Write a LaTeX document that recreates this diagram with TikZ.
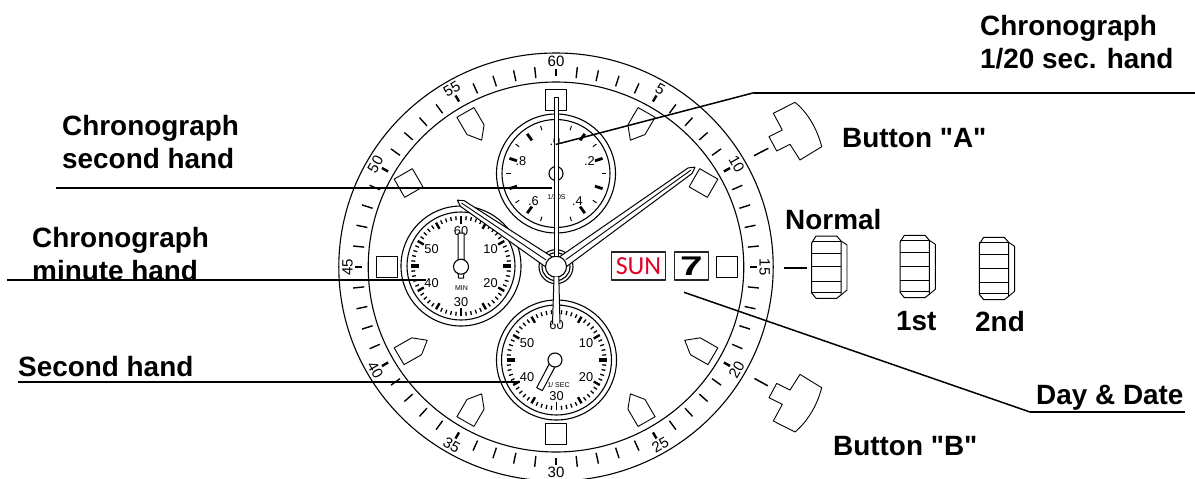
\documentclass[tikz,border=0pt]{standalone}
\usepackage{fontspec}
\setmainfont{Liberation Sans}[Ligatures=TeXOff]
\newfontfamily\sunfont{Carlito}
\usetikzlibrary{positioning,calc}
\definecolor{sunred}{RGB}{228,0,38}

\begin{document}
\begin{tikzpicture}[x=1pt,y=-1pt,line join=round,
 ring/.style={draw,circle,line width=1.1pt,inner sep=0pt,fill=white},
 plate/.style={draw,line width=0.9pt,fill=white},
 marker/.style={draw,line width=0.9pt,inner sep=0pt,minimum size=21pt,fill=white},
 window/.style={draw=black!85,line width=1.3pt,inner sep=0pt,minimum height=28pt,fill=white},
 handline/.style={draw,line width=1pt,fill=white},
 leader/.style={line width=2pt},
 callout/.style={font=\fontsize{27.9}{33}\selectfont\bfseries,align=left,inner sep=0pt,anchor=west},
 bezelnum/.style={font=\fontsize{15}{15}\selectfont,inner sep=0pt},
 dialnum/.style={font=\fontsize{12.8}{14}\selectfont,inner sep=0pt},
 dialname/.style={font=\fontsize{7}{7}\selectfont,inner sep=0pt},
 crown/.pic={
  \draw[line width=0.9pt,fill=white] (29.3,5)--(35.3,9)--(35.3,54)--(29.3,59);
  \draw[line width=1pt,fill=white] (0,7)--(4.3,0)--(25,0)--(29.3,5)--(29.3,59)--(25,62.3)--(4.3,62.3)--(0,57)--cycle;
  \foreach \ly in {5,17.3,30.7,45,56.3} \draw[line width=0.8pt] (0,\ly)--(29.3,\ly);
 }]
\useasboundingbox (0,0) rectangle (1195,479);

% bezel
\begin{scope}[shift={(556,267)},xscale=1.015]
\draw[line width=1.1pt] (0,0) circle (214);
\draw[line width=1.1pt] (0,0) circle (185);
\foreach \m in {0,...,59}{
 \pgfmathtruncatemacro{\c}{6*\m}
 \pgfmathtruncatemacro{\five}{mod(\m,5)}
 \ifnum\five=0
  \draw[line width=2.4pt] (\c-90:191)--(\c-90:198);
 \else
  \draw[line width=1.4pt] (\c-90:190)--(\c-90:201);
 \fi
}
\foreach \n/\rot in {60/0,5/-30,10/-60,15/-90,20/60,25/30,30/0,35/-30,40/-60,45/90,50/60,55/30}{
 \pgfmathsetmacro{\c}{6*\n}
 \node[bezelnum,rotate=\rot] (bezel\n) at (\c-90:205.5) {\n};
}
\foreach \c in {30,120,150,210,240,330}
 \draw[plate,rotate=-\c] (-9.7,-178.5)--(9.7,-178.5)--(9.7,-158.5)--(0,-146.5)--(-9.7,-158.5)--cycle;
\end{scope}

\node[marker] (mark12) at (556,100) {};
\node[marker] (mark6) at (556,434) {};
\node[marker] (mark9) at (386.5,267) {};
\node[marker] (mark3) at (727,267) {};
\node[marker,rotate=-30] (mark2) at (703.5,183) {};
\node[marker,rotate=30] (mark10) at (408.5,183) {};

% windows
\node[window,minimum width=54pt] (daywin) at (638.5,266) {\sunfont\fontsize{26}{26}\selectfont\textcolor{sunred}{SUN}};
\node[window,minimum width=34pt] (datewin) at (691.3,266) {\bfseries\fontsize{27}{27}\selectfont\scalebox{1.5}[1]{7}};

% 1/20 dial
\node[ring,minimum size=119pt] (topouter) at (556,173.5) {};
\node[ring,minimum size=108pt] (topinner) at (556,173.5) {};
\foreach \c in {0,36,...,324}
 \draw[line width=2.8pt,shift={(556,173.5)}] (\c-90:49)--(\c-90:41);
\foreach \c in {18,54,...,342}
 \draw[line width=1pt,shift={(556,173.5)}] (\c-90:50)--(\c-90:45.5);
\node[dialnum] (top0) at (555,141) {.0};
\node[dialnum] (top2) at (589.5,161) {.2};
\node[dialnum] (top4) at (577.5,201.5) {.4};
\node[dialnum] (top6) at (533.5,201.5) {.6};
\node[dialnum] (top8) at (521,161) {.8};
\node[dialname] (topname) at (556.5,196.7) {1/20S};
\node[ring,minimum size=14pt] (tophub) at (556,173.5) {};

% minute dial and small second dial
\foreach \dial/\cx/\cy/\inr in {min/461/266/108,sec/556.5/360/110}{
 \node[ring,minimum size=120pt] (\dial outer) at (\cx,\cy) {};
 \node[ring,minimum size=\inr pt] (\dial inner) at (\cx,\cy) {};
 \foreach \m in {0,...,59}{
  \pgfmathtruncatemacro{\c}{6*\m}
  \pgfmathtruncatemacro{\five}{mod(\m,5)}
  \pgfmathtruncatemacro{\quart}{mod(\m,15)}
  \ifnum\quart=0
   \ifnum\m=0 \def\tw{1.5pt}\else\ifnum\m=30 \def\tw{1.5pt}\else\def\tw{3.2pt}\fi\fi
   \draw[line width=\tw,shift={(\cx,\cy)}] (\c-90:50)--(\c-90:42);
  \else\ifnum\five=0
   \draw[line width=2.4pt,shift={(\cx,\cy)}] (\c-90:50)--(\c-90:43);
  \else
   \draw[line width=1.3pt,shift={(\cx,\cy)}] (\c-90:50)--(\c-90:46);
  \fi\fi
 }
 \foreach \n/\nx/\ny in {60/0/-35,10/29.5/-17,20/29.5/17.5,30/0/36,40/-29.5/17.5,50/-29.5/-17}
  \node[dialnum] (\dial\n) at ($(\cx,\cy)+(\nx,\ny)$) {\n};
}
\node[dialname] (minname) at (461.5,288.5) {MIN};
\node[dialname] (secname) at (558.5,385) {1/ SEC};

% small hands
\draw[handline] (458,272)--(458,233)--(464,233)--(464,272)--(463.5,278)--(458.5,278)--cycle;
\node[ring,minimum size=15pt] (minhub) at (461,266.7) {};
\begin{scope}[shift={(555,360)},rotate=-28]
\draw[handline] (-3,14)--(-3,-3)--(3,-3)--(3,14)--cycle;
\draw[handline] (-3.2,0)--(-3.2,33)--(3.2,33)--(3.2,0)--cycle;
\end{scope}
\node[ring,minimum size=14pt] (sechub) at (555,360) {};

% main hub and hands
\node[ring,minimum size=34pt] (hubouter) at (556,266.7) {};
\node[ring,minimum size=28pt] (hubmid) at (556,266.7) {};
\foreach \rot/\hl in {35.6/171,146/119}{
 \begin{scope}[shift={(556,266.7)},rotate=\rot]
 \draw[handline] (8,-6)--(\hl-6,-3.4)--(\hl,0)--(\hl-6,3.4)--(8,6)--cycle;
 \draw[line width=0.9pt] (12,0)--(\hl-5,0);
 \end{scope}
}
\node[ring,minimum size=21pt] (hubinner) at (556,266.7) {};
\draw[handline] (554,256)--(554,97)--(558.2,97)--(558.2,256);
\draw[handline,draw=none] (554,277)--(552.5,323.5)--(560,323.5)--(558.8,277)--cycle;
\draw[line width=1pt] (554,277)--(552.5,323.5) (558.8,277)--(560,323.5);

% crown and buttons
\draw[line width=2pt] (784.3,267.7)--(806.7,267.7);
\path (811.7,236) pic {crown} (900,235.3) pic {crown} (979.3,237.3) pic {crown};
\draw[plate] (773.3,113.3)--(795,102.3) .. controls (807,112) and (817,128) .. (821.7,146.7)--(800,160)--(790,144.3)--(776.7,151)--(769,136.7)--(782.3,130)--cycle;
\draw[plate] (773.3,421)--(795,432) .. controls (807,422) and (817,406) .. (821.7,387.7)--(800,374.4)--(790,390)--(776.7,383.4)--(769,397.7)--(782.3,404.4)--cycle;
\draw[line width=1.5pt] (754,155.7)--(768.3,148.3);
\draw[line width=1.5pt] (754.5,378.5)--(767.8,385.8);

% call-outs
\node[callout] (lbl20th) at (980,42) {Chronograph\\1/20 sec. hand};
\node[callout] (lblsec) at (62,142) {Chronograph\\second hand};
\node[callout] (lblmin) at (32,254) {Chronograph\\minute hand};
\node[callout] (lblsmall) at (18,367) {Second hand};
\node[callout] (lblA) at (842,138) {Button "A"};
\node[callout] (lblB) at (833,446) {Button "B"};
\node[callout] (lblnormal) at (785,220) {Normal};
\node[callout] (lblfirst) at (896,321) {1st};
\node[callout] (lblsecond) at (975,322) {2nd};
\node[callout] (lblday) at (1036,398) {Day \& Date};

\coordinate (c20a) at (555.7,144.5);
\coordinate (c20b) at (754,92.7);
\coordinate (c20c) at (1195,92.7);
\coordinate (csa) at (56,187.7);
\coordinate (csb) at (552,187.7);
\coordinate (cma) at (7,280);
\coordinate (cmb) at (426,280);
\coordinate (cha) at (18,382);
\coordinate (chb) at (520,382);
\coordinate (cda) at (684,292.3);
\coordinate (cdb) at (1030,412);
\coordinate (cdc) at (1185,412);
\draw[leader,line width=1.5pt] (c20a)--(c20b);
\draw[leader] (c20b)--(c20c);
\draw[leader] (csa)--(csb);
\draw[leader] (cma)--(cmb);
\draw[leader] (cha)--(chb);
\draw[leader,line width=1.5pt] (cda)--(cdb);
\draw[leader] (cdb)--(cdc);
\end{tikzpicture}
\end{document}
